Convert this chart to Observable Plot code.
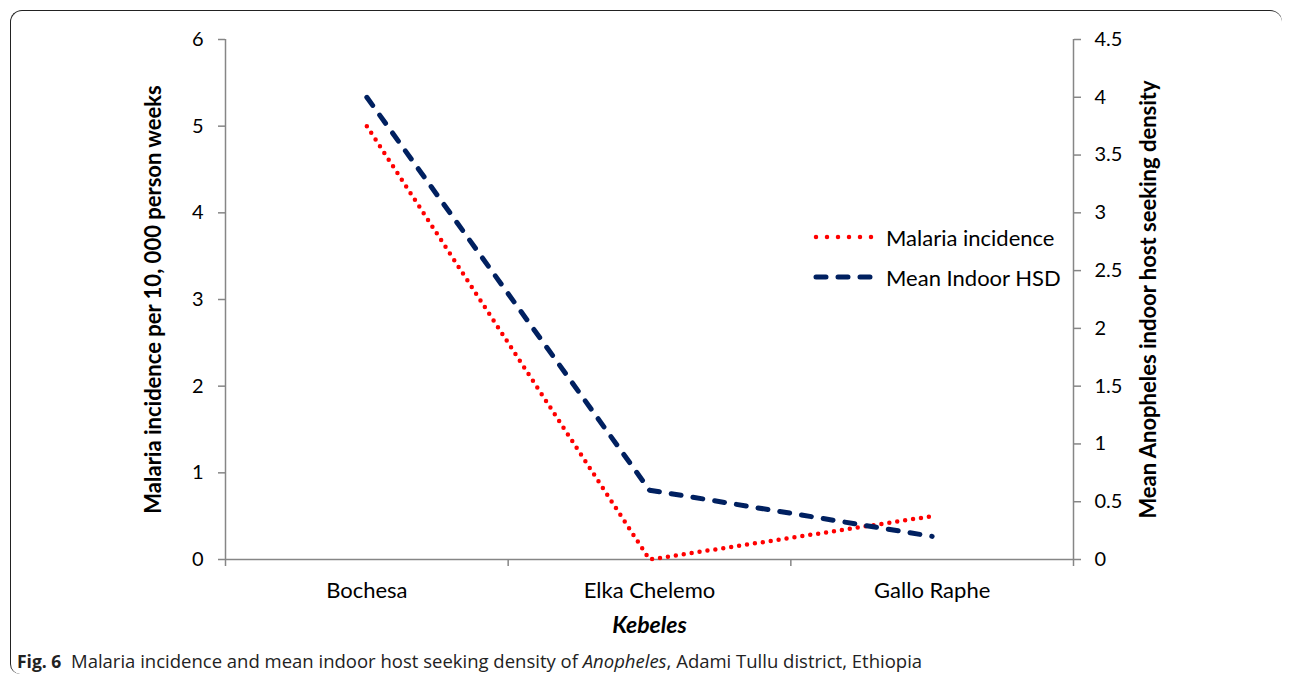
<!DOCTYPE html>
<html><head><meta charset="utf-8">
<script src="https://cdn.jsdelivr.net/npm/d3@7"></script>
<script src="https://cdn.jsdelivr.net/npm/@observablehq/plot@0.6"></script>
<style>
body{margin:0;background:#fff;width:1293px;height:678px;overflow:hidden;position:relative;font-family:Lato,sans-serif;}
#frame{position:absolute;left:10px;top:10px;width:1272px;height:664px;border-top:1.5px solid #222;border-left:1.5px solid #222;border-radius:12px 12px 0 10px;box-sizing:border-box;}
#chart{position:absolute;left:0;top:0;}
#chart g[aria-label="y-axis label"] text{font-weight:bold;font-size:22px;}
#chart g[aria-label="x-axis label"] text{font-weight:bold;font-style:italic;font-size:23px;}
#legend{position:absolute;left:812px;top:217px;font-size:22px;color:#000;}
#legend .row{display:flex;align-items:center;height:40px;}
#legend svg{margin-right:10px;}
#caption{position:absolute;left:17px;top:648px;font-family:"Open Sans",sans-serif;font-size:18.5px;color:#222;white-space:nowrap;}
#caption b{font-size:17.5px;}
</style>
</head><body>
<div id="frame"></div>
<div id="chart"></div>
<div id="legend"></div>
<div id="caption"><b>Fig. 6</b>&nbsp; Malaria incidence and mean indoor host seeking density of <i>Anopheles</i>, Adami Tullu district, Ethiopia</div>
<script>
const kebeles = ["Bochesa", "Elka Chelemo", "Gallo Raphe"];
const malariaIncidence = [5.0, 0.0, 0.5];
const meanIndoorHSD = [4.0, 0.6, 0.2];
const leftTicks = [0, 1, 2, 3, 4, 5, 6];
const rightTicks = [0, 0.5, 1, 1.5, 2, 2.5, 3, 3.5, 4, 4.5];
const leftMax = 6, rightMax = 4.5;
const k = leftMax / rightMax;
const seriesNames = ["Malaria incidence", "Mean Indoor HSD"];
const seriesColors = ["#ff0000", "#002060"];

const rows = kebeles.map((name, i) => ({name, pos: i + 0.5, malaria: malariaIncidence[i], hsd: meanIndoorHSD[i]}));
const boundaries = d3.range(kebeles.length + 1);
const axisGray = "#868686";
const fmt = d3.format("~g");

const chart = Plot.plot({
  width: 1293, height: 640,
  marginLeft: 225, marginRight: 220, marginTop: 39, marginBottom: 81,
  x: {type: "linear", domain: [0, kebeles.length]},
  y: {domain: [0, leftMax]},
  style: {fontFamily: "Lato, sans-serif", fontSize: "20px", color: "#000", background: "transparent"},
  marks: [
    Plot.ruleY([0], {stroke: axisGray, strokeWidth: 1.5}),
    Plot.ruleX([0, kebeles.length], {stroke: axisGray, strokeWidth: 1.5}),
    Plot.axisX(boundaries, {tickSize: 7, stroke: axisGray, strokeWidth: 1.5, tickFormat: () => "", label: null}),
    Plot.axisX(rows.map(d => d.pos), {tickSize: 0, tickPadding: 23, fill: "#000", fontSize: 22, tickFormat: p => kebeles[Math.floor(p)], label: "Kebeles", labelArrow: "none", labelAnchor: "center", labelOffset: 73}),
    Plot.axisY(leftTicks, {anchor: "left", tickSize: 7, tickPadding: 15, stroke: axisGray, strokeWidth: 1.5, fill: "#000", tickFormat: fmt, label: "Malaria incidence per 10, 000 person weeks", labelArrow: "none", labelAnchor: "center", labelOffset: 80}),
    Plot.axisY(rightTicks.map(v => v * k), {anchor: "right", tickSize: 7, tickPadding: 14, stroke: axisGray, strokeWidth: 1.5, fill: "#000", tickFormat: v => fmt(+(v / k).toFixed(2)), label: "Mean Anopheles indoor host seeking density", labelArrow: "none", labelAnchor: "center", labelOffset: 82}),
    Plot.line(rows, {x: "pos", y: "malaria", stroke: seriesColors[0], strokeWidth: 4.5, strokeDasharray: "0 8", strokeLinecap: "round"}),
    Plot.line(rows, {x: "pos", y: d => d.hsd * k, stroke: seriesColors[1], strokeWidth: 5, strokeDasharray: "10 12", strokeLinecap: "round"})
  ]
});
document.getElementById("chart").appendChild(chart);

const legend = document.getElementById("legend");
const dashes = ["0 11", "10 12"];
const widths = [4.5, 5];
seriesNames.forEach((name, i) => {
  legend.insertAdjacentHTML("beforeend",
    `<div class="row"><svg width="64" height="10"><line x1="4" y1="5" x2="61" y2="5" stroke="${seriesColors[i]}" stroke-width="${widths[i]}" stroke-dasharray="${dashes[i]}" stroke-linecap="round"/></svg><span>${name}</span></div>`);
});
</script>
</body></html>
